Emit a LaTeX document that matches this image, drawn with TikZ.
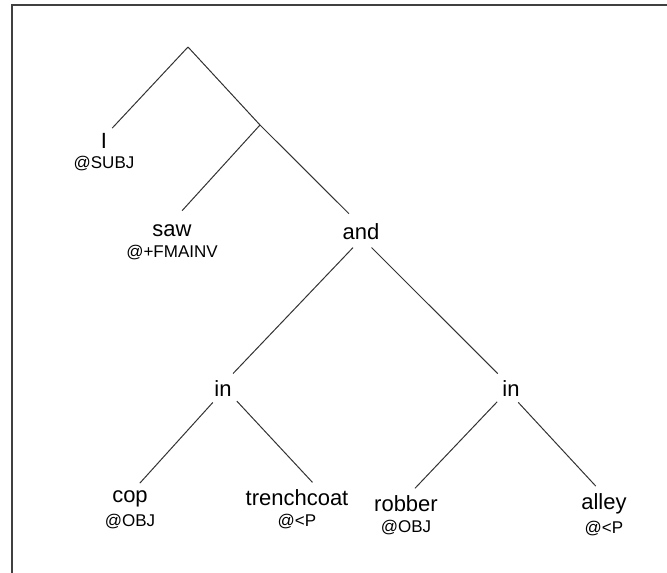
\documentclass[tikz,border=0pt]{standalone}
\usepackage{fontspec}
\setmainfont{Liberation Sans}
\usetikzlibrary{positioning}

\begin{document}
\begin{tikzpicture}[
    x=1pt,
    y=-1pt,
    word/.style={font=\fontsize{22}{24}\selectfont, inner sep=3pt},
    tag/.style={font=\fontsize{17}{18}\selectfont, inner sep=1pt},
    branch/.style={line width=1pt, black!80}
]
\useasboundingbox (0,0) rectangle (667,573);
% open frame: left and top edges only
\draw[line width=2pt, black!75] (12,573) -- (12,5) -- (667,5);

\coordinate (root) at (188,47);
\coordinate (vp) at (260,125);

\node[word] (i) at (104,141) {I};
\node[tag, below=3pt of i] (isubj) {@SUBJ};
\node[word] (saw) at (172,231) {saw};
\node[tag, below=4pt of saw] (sawtag) {@+FMAINV};
\node[word] (and) at (361,232) {and};

\node[word] (inl) at (223,389) {in};
\node[word] (inr) at (511,389) {in};

\node[word] (cop) at (130,499) {cop};
\node[tag, below=3pt of cop] (coptag) {@OBJ};
\node[word] (coat) at (297,498) {trenchcoat};
\node[tag, below=4pt of coat] (coattag) {@<P};
\node[word] (robber) at (406,504) {robber};
\node[tag, below=4pt of robber] (robbertag) {@OBJ};
\node[word] (alley) at (604,504) {alley};
\node[tag, below=3pt of alley] (alleytag) {@<P};

\draw[branch, shorten >=3pt] (root) -- (i.60);
\draw[branch] (root) -- (vp);
\draw[branch, shorten >=15pt] (vp) -- (saw.north);
\draw[branch, shorten >=10pt] (vp) -- (and.114);
\draw[branch, shorten <=6pt, shorten >=6pt] (and.251) -- (inl.62);
\draw[branch, shorten <=6pt, shorten >=6pt] (and.299) -- (inr.129);
\draw[branch, shorten <=3pt, shorten >=6pt] (inl.234) -- (cop.63);
\draw[branch, shorten <=3pt, shorten >=6pt] (inl.320) -- (coat.30);
\draw[branch, shorten <=3pt, shorten >=6pt] (inr.222) -- (robber.67);
\draw[branch, shorten <=3pt, shorten >=6pt] (inr.295) -- (alley.107);
\end{tikzpicture}
\end{document}
